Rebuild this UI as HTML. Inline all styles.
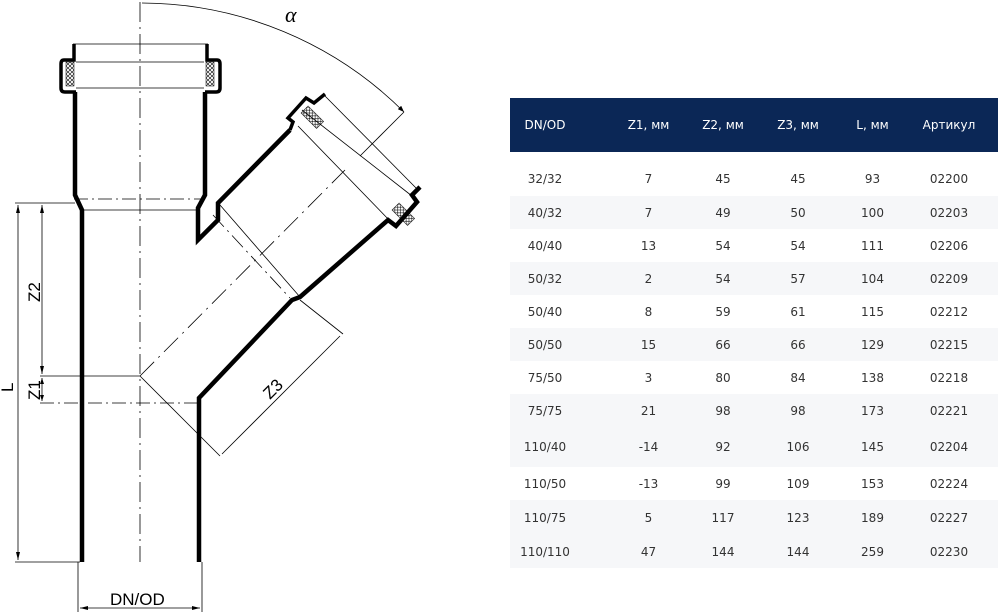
<!DOCTYPE html>
<html><head><meta charset="utf-8"><style>
body{margin:0;width:998px;height:616px;background:#fff;overflow:hidden;position:relative;font-family:"Liberation Sans",sans-serif}
svg{position:absolute;left:0;top:0}
table{position:absolute;left:510px;top:98px;width:488px;border-collapse:collapse;table-layout:fixed;font-family:"DejaVu Sans","Liberation Sans","Noto Sans CJK SC",sans-serif;font-size:12px;color:#333}
th{background:#0b2756;color:#fff;font-weight:normal;height:54px;font-size:12px;padding:0}
td{text-align:center;height:33px;padding:0}
th:nth-child(1),td:nth-child(1){padding-right:16px}
th:nth-child(2),td:nth-child(2){padding-left:16px}
th:nth-child(6),td:nth-child(6){padding-right:10px}
tr.g td{background:#f6f7f9}
</style></head><body>
<svg width="500" height="616" viewBox="0 0 500 616">
<defs><pattern id="h" width="4" height="4" patternUnits="userSpaceOnUse"><path d="M0 0L4 4M4 0L0 4" stroke="#000" stroke-width="0.6"/></pattern>
<marker id="a" markerWidth="8" markerHeight="6" refX="8" refY="3" orient="auto"><path d="M0 0L8 3L0 6z" fill="#000"/></marker></defs>
<g fill="none" stroke="#000">
<line x1="140" y1="2" x2="140" y2="562" stroke-width="0.8" stroke-dasharray="20,5,2,5"/>
<line x1="73" y1="44" x2="208" y2="44" stroke-width="0.8"/>
<line x1="76" y1="62" x2="204" y2="62" stroke-width="0.8"/>
<line x1="76" y1="88" x2="204" y2="88" stroke-width="0.8"/>
<path d="M74 44V60H64Q61 60 61 64V88Q61 92 65 92H76" stroke-width="3.5"/>
<path d="M207 44V60H217Q220 60 220 64V88Q220 92 216 92H205" stroke-width="3.5"/>
<rect x="66" y="62" width="8" height="24" fill="url(#h)" stroke-width="0.5"/>
<rect x="206" y="62" width="8" height="24" fill="url(#h)" stroke-width="0.5"/>
<path d="M75 92V195L82 210V562" stroke-width="4.5"/>
<path d="M205 92V195L198 208V240L218 220V203L290 130" stroke-width="4.5"/>
<line x1="74" y1="199" x2="205" y2="199" stroke-width="0.8" stroke-dasharray="14,4,2,4"/>
<line x1="82" y1="210" x2="198" y2="210" stroke-width="0.8"/>
<path d="M290 130L293 122L288 118L306 98L314 103L325 94" stroke-width="3.5"/>
<path d="M420 187L412 195L417 202L396 226L388 220L300 297L292 300L199 398V562" stroke-width="4.5"/>
<path d="M302 110L412 196" stroke-width="0.8"/>
<path d="M325 96L418 190" stroke-width="0.8"/>
<path d="M298 126L391 222" stroke-width="0.8"/>
<path d="M220 205L300 297" stroke-width="0.8"/>
<path d="M213 215L290 298" stroke-width="0.8" stroke-dasharray="16,5,2,5"/>
<path d="M140 376L345 170" stroke-width="0.8" stroke-dasharray="20,6,2,6"/>
<rect x="0" y="0" width="10" height="22" fill="url(#h)" stroke-width="0.5" transform="translate(301 113) rotate(-45)"/>
<rect x="0" y="0" width="10" height="22" fill="url(#h)" stroke-width="0.5" transform="translate(392 210) rotate(-45)"/>
<path d="M142 3A373 373 0 0 1 404 112" stroke-width="0.8" marker-end="url(#a)"/>
<line x1="404" y1="112" x2="360" y2="156" stroke-width="0.8"/>
<line x1="15" y1="203" x2="75" y2="203" stroke-width="0.8"/>
<line x1="15" y1="562" x2="80" y2="562" stroke-width="0.8"/>
<line x1="18" y1="205" x2="18" y2="560" stroke-width="0.8"/>
<line x1="42" y1="205" x2="42" y2="374" stroke-width="0.8"/>
<line x1="42" y1="378" x2="42" y2="401" stroke-width="0.8"/>
<line x1="40" y1="376" x2="140" y2="376" stroke-width="0.8"/>
<line x1="40" y1="403" x2="200" y2="403" stroke-width="0.8" stroke-dasharray="14,4,2,4"/>
<path d="M140 376L220 456" stroke-width="0.8"/>
<path d="M300 300L343 334" stroke-width="0.8"/>
<path d="M222 454L340 336" stroke-width="0.8"/>
<line x1="78" y1="562" x2="78" y2="612" stroke-width="0.8"/>
<line x1="202" y1="562" x2="202" y2="612" stroke-width="0.8"/>
<line x1="80" y1="608" x2="200" y2="608" stroke-width="0.8"/>
</g>
<g fill="#000">
<path d="M18 205l-2 8h4z M18 560l-2-8h4z M42 205l-2 8h4z M42 374l-2-8h4z M42 378l-2 6h4z M42 401l-2-6h4z M80 608l8-2v4z M200 608l-8-2v4z"/>
</g>
<g font-family="Liberation Sans,sans-serif" font-size="17">
<text x="13" y="392" transform="rotate(-90 13 392)">L</text>
<text x="40" y="302" transform="rotate(-90 40 302)">Z2</text>
<text x="40" y="400" transform="rotate(-90 40 400)">Z1</text>
<text x="270" y="400" transform="rotate(-45 270 400)">Z3</text>
<text x="110" y="605">DN/OD</text>
<text x="285" y="22" font-family="Liberation Serif,serif" font-style="italic" font-size="22">α</text>
</g>
</svg>
<table>
<colgroup><col style="width:86px"><col style="width:89px"><col style="width:76px"><col style="width:74px"><col style="width:75px"><col style="width:88px"></colgroup>
<tr><th>DN/OD</th><th>Z1, мм</th><th>Z2, мм</th><th>Z3, мм</th><th>L, мм</th><th>Артикул</th></tr>
<tr><td style="height:34px;padding-top:10px">32/32</td><td style="padding-top:10px">7</td><td style="padding-top:10px">45</td><td style="padding-top:10px">45</td><td style="padding-top:10px">93</td><td style="padding-top:10px">02200</td></tr>
<tr class="g"><td>40/32</td><td>7</td><td>49</td><td>50</td><td>100</td><td>02203</td></tr>
<tr><td>40/40</td><td>13</td><td>54</td><td>54</td><td>111</td><td>02206</td></tr>
<tr class="g"><td>50/32</td><td>2</td><td>54</td><td>57</td><td>104</td><td>02209</td></tr>
<tr><td>50/40</td><td>8</td><td>59</td><td>61</td><td>115</td><td>02212</td></tr>
<tr class="g"><td>50/50</td><td>15</td><td>66</td><td>66</td><td>129</td><td>02215</td></tr>
<tr><td>75/50</td><td>3</td><td>80</td><td>84</td><td>138</td><td>02218</td></tr>
<tr class="g"><td>75/75</td><td>21</td><td>98</td><td>98</td><td>173</td><td>02221</td></tr>
<tr class="g"><td style="height:40px">110/40</td><td>-14</td><td>92</td><td>106</td><td>145</td><td>02204</td></tr>
<tr><td style="height:33px">110/50</td><td>-13</td><td>99</td><td>109</td><td>153</td><td>02224</td></tr>
<tr class="g"><td style="height:35px">110/75</td><td>5</td><td>117</td><td>123</td><td>189</td><td>02227</td></tr>
<tr class="g"><td style="height:33px">110/110</td><td>47</td><td>144</td><td>144</td><td>259</td><td>02230</td></tr>
</table>
</body></html>
